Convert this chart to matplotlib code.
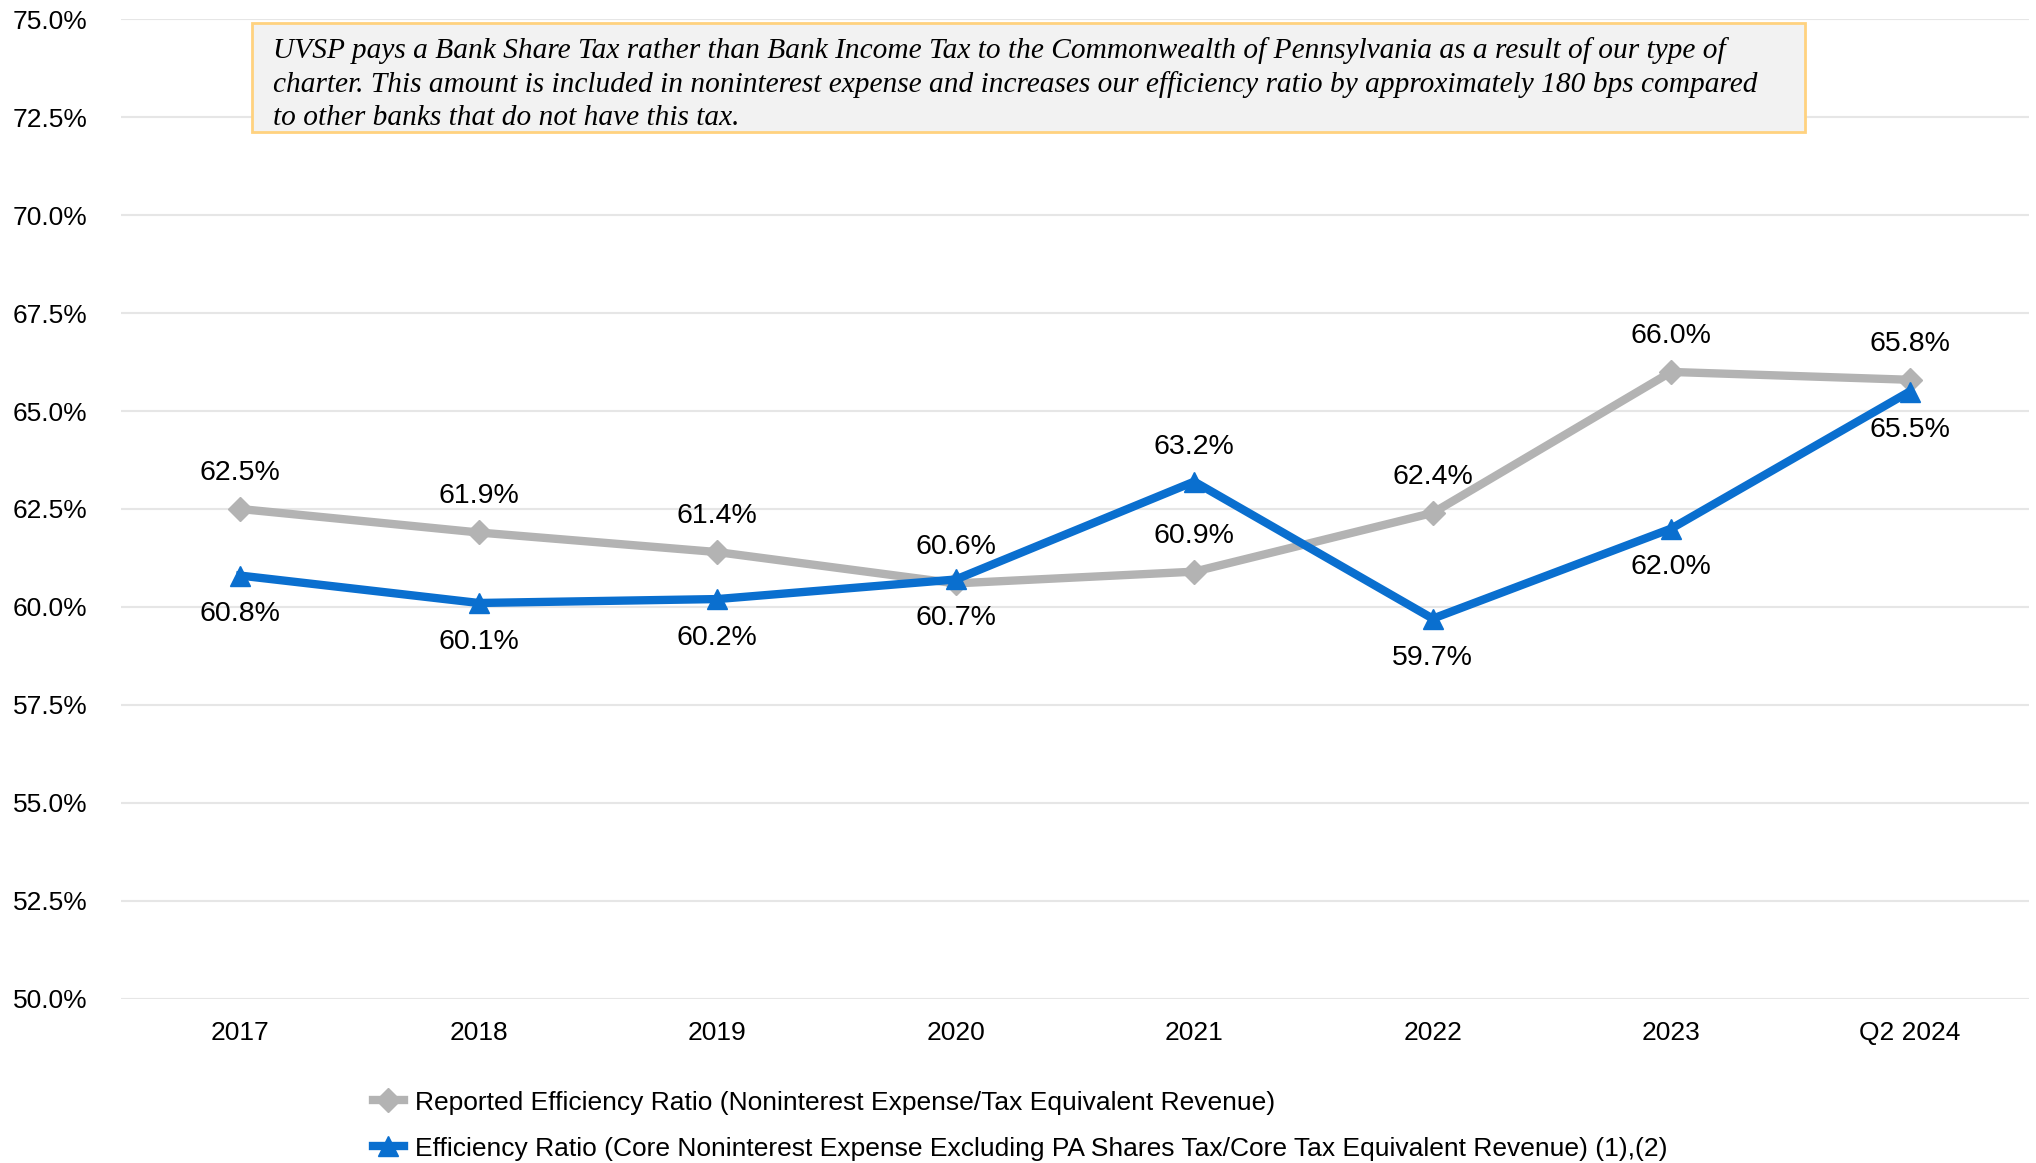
import matplotlib.pyplot as plt
from matplotlib.patches import Rectangle
from matplotlib.lines import Line2D

# Efficiency ratio history (%)
years = ['2017', '2018', '2019', '2020', '2021', '2022', '2023', 'Q2 2024']
reported = [62.5, 61.9, 61.4, 60.6, 60.9, 62.4, 66.0, 65.8]
core = [60.8, 60.1, 60.2, 60.7, 63.2, 59.7, 62.0, 65.5]
# label placement for the core series: above the point (True) or below
core_above = [False, False, False, False, True, False, False, False]

yticks = [50.0, 52.5, 55.0, 57.5, 60.0, 62.5, 65.0, 67.5, 70.0, 72.5, 75.0]

note = ("UVSP pays a Bank Share Tax rather than Bank Income Tax to the Commonwealth of Pennsylvania as a result of our type of\n"
        "charter. This amount is included in noninterest expense and increases our efficiency ratio by approximately 180 bps compared\n"
        "to other banks that do not have this tax.")

gray = '#B3B3B3'
blue = '#0A6FCF'

plt.rcParams['font.family'] = ['Liberation Sans', 'DejaVu Sans']

W, H = 2036, 1163
fig = plt.figure(figsize=(W / 100, H / 100), dpi=100)
ax = fig.add_axes([121 / W, (H - 998.5) / H, (2029 - 121) / W, (998.5 - 19.5) / H])

x = list(range(len(years)))
ax.plot(x, reported, color=gray, linewidth=6, marker='D', markersize=12, zorder=3,
        label='Reported Efficiency Ratio (Noninterest Expense/Tax Equivalent Revenue)')
ax.plot(x, core, color=blue, linewidth=6, marker='^', markersize=15, zorder=4,
        label='Efficiency Ratio (Core Noninterest Expense Excluding PA Shares Tax/Core Tax Equivalent Revenue) (1),(2)')

for i, v in enumerate(reported):
    ax.annotate(f'{v:.1f}%', (i, v), xytext=(0, 26), textcoords='offset points',
                ha='center', va='center', fontsize=20.5)
for i, v in enumerate(core):
    dy = 25 if core_above[i] else -28
    ax.annotate(f'{v:.1f}%', (i, v), xytext=(0, dy), textcoords='offset points',
                ha='center', va='center', fontsize=20.5)

ax.set_xlim(-0.5, len(years) - 0.5)
ax.set_ylim(50, 75)
ax.set_yticks(yticks)
ax.set_yticklabels([f'{t:.1f}%' for t in yticks], fontsize=19)
ax.set_xticks(x)
ax.set_xticklabels(years, fontsize=19)
ax.tick_params(axis='both', length=0)
ax.tick_params(axis='y', pad=24)
ax.tick_params(axis='x', pad=16)
ax.grid(axis='y', color='#E6E6E6', linewidth=1.5)
ax.set_axisbelow(True)
for s in ax.spines.values():
    s.set_visible(False)

# explanatory note box at the top
box = Rectangle((252 / W, 1 - 132 / H), (1805 - 252) / W, (132 - 23) / H,
                transform=fig.transFigure, facecolor='#F2F2F2', edgecolor='#FFD27F',
                linewidth=2, zorder=5)
fig.patches.append(box)
fig.text(273 / W, 1 - 37 / H, note, family='Liberation Serif', style='italic',
         fontsize=21.2, va='top', ha='left', linespacing=1.34, zorder=6)

handles = [Line2D([], [], color=gray, linewidth=6, marker='D', markersize=12),
           Line2D([], [], color=blue, linewidth=6, marker='^', markersize=15)]
fig.legend(handles, [l.get_label() for l in ax.get_lines()],
           loc='upper left', bbox_to_anchor=(362 / W, 1 - 1080 / H),
           frameon=False, fontsize=19, handlelength=1.2, handletextpad=0.4,
           labelspacing=0.84, borderaxespad=0)

fig.savefig('out.png', dpi=100)
